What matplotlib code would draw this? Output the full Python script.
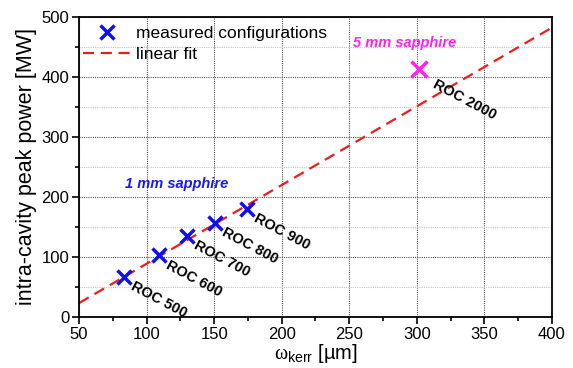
import numpy as np
import matplotlib
matplotlib.use('Agg')
import matplotlib.pyplot as plt
from matplotlib.ticker import MultipleLocator

plt.rcParams['font.family'] = ['Liberation Sans', 'DejaVu Sans']
plt.rcParams['mathtext.fontset'] = 'custom'
plt.rcParams['mathtext.rm'] = 'Liberation Sans'
plt.rcParams['mathtext.it'] = 'Liberation Serif'

# measured points (1 mm sapphire)
w_kerr = [83, 109, 130, 151, 174]
power = [67, 103, 135, 157, 180]
roc_labels = ['ROC 500', 'ROC 600', 'ROC 700', 'ROC 800', 'ROC 900']
# 5 mm sapphire point
w_kerr_5 = [302]
power_5 = [414]
roc_label_5 = 'ROC 2000'
# linear fit endpoints
fit_x = [50, 400]
fit_y = [23, 482]

fig = plt.figure(figsize=(5.73, 3.68), dpi=100)
ax = fig.add_axes([0.138, 0.139, 0.825, 0.815])

ax.plot(w_kerr, power, 'x', color='#1010ee', ms=10, mew=2.5, ls='none',
        label='measured configurations', zorder=3)
ax.plot(fit_x, fit_y, '--', color='#ee1c1c', lw=1.6, dashes=(5, 3), label='linear fit', zorder=2)
ax.plot(w_kerr_5, power_5, 'x', color='#ff22ee', ms=11, mew=2.5, ls='none', zorder=3)

for xx, yy, s in zip(w_kerr, power, roc_labels):
    ax.annotate(s, (xx, yy), xytext=(8, -2), textcoords='offset points',
                rotation=-28, rotation_mode='anchor', ha='left', va='top',
                fontsize=10.5, fontweight='bold')
ax.annotate(roc_label_5, (w_kerr_5[0], power_5[0]), xytext=(13, -6), textcoords='offset points',
            rotation=-28, rotation_mode='anchor', ha='left', va='top',
            fontsize=10.5, fontweight='bold')

ax.text(84, 222, '1 mm sapphire', color='#1a1aee', fontsize=10.5, fontweight='bold',
        style='italic', va='center')
ax.text(253, 457, '5 mm sapphire', color='#ff22ee', fontsize=10.5, fontweight='bold',
        style='italic', va='center')

ax.set_xlim(50, 400)
ax.set_ylim(0, 500)
ax.xaxis.set_major_locator(MultipleLocator(50))
ax.xaxis.set_minor_locator(MultipleLocator(25))
ax.yaxis.set_major_locator(MultipleLocator(100))
ax.yaxis.set_minor_locator(MultipleLocator(50))
ax.grid(which='major', color='#555555', ls=(0, (1, 1)), lw=0.8)
ax.grid(which='minor', axis='y', color='#c4c4c4', ls=(0, (1, 1)), lw=0.8)
ax.tick_params(which='major', direction='out', length=5, width=1.2, labelsize=12, pad=2)
ax.tick_params(which='minor', direction='out', length=3, width=1.2)
for sp in ax.spines.values():
    sp.set_linewidth(1.3)

ax.set_xlabel(r'$\omega_{\mathrm{kerr}}$ [µm]', fontsize=14.5, labelpad=0)
ax.set_ylabel('intra-cavity peak power [MW]', fontsize=15.5, labelpad=3)

ax.legend(loc='upper left', frameon=False, fontsize=12.5, handlelength=2.75,
          borderaxespad=0, borderpad=0.1, labelspacing=0.3, handletextpad=0.3,
          bbox_to_anchor=(0.004, 0.975))

fig.savefig('out.png', dpi=100)
